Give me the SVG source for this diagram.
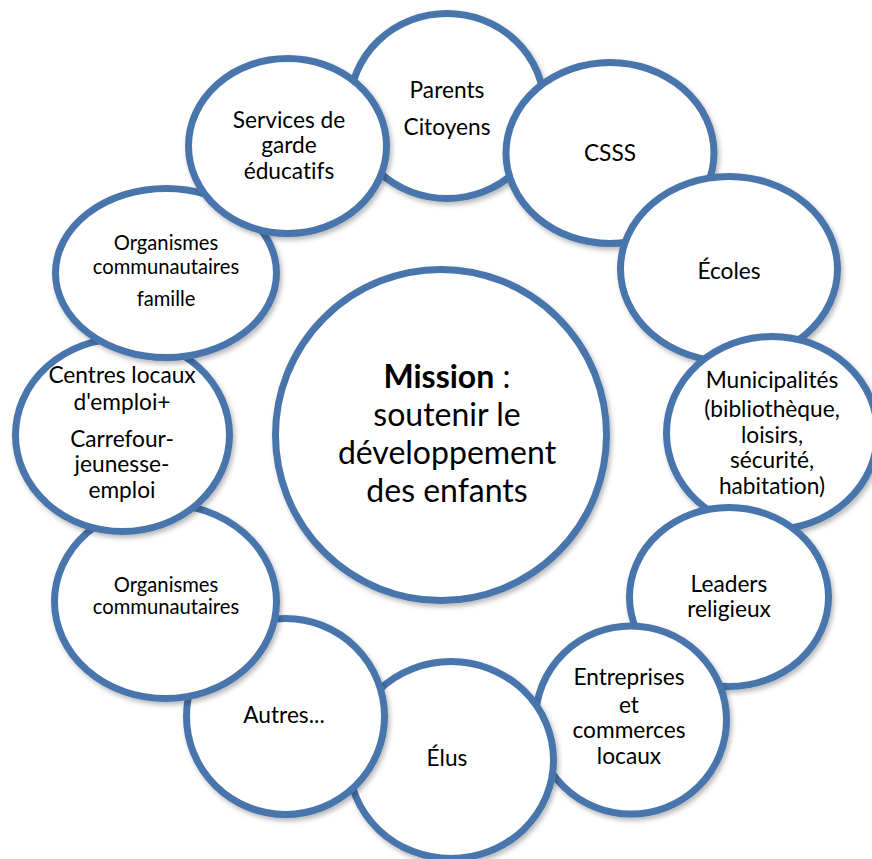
<svg xmlns="http://www.w3.org/2000/svg" width="872" height="859" viewBox="0 0 872 859">
  <defs>
    <filter id="shadow" x="-10%" y="-10%" width="125%" height="125%">
      <feDropShadow dx="2" dy="3" stdDeviation="2.5" flood-color="#000000" flood-opacity="0.28"/>
    </filter>
  </defs>
  <style>
    .bubble { fill: #ffffff; stroke: #4a75ad; stroke-width: 7; filter: url(#shadow); }
    .label { font-family: "Lato", "Open Sans", "Liberation Sans", sans-serif; fill: #000000; text-anchor: middle; font-variant-ligatures: none; }
    .m { font-size: 22.7px; }
    .s { font-size: 20.2px; }
    .big { font-size: 32px; }
  </style>
  <rect width="872" height="859" fill="#ffffff"/>

  <!-- ring of partners, drawn clockwise from the top so each overlaps the previous -->
  <g id="parents">
    <ellipse class="bubble" cx="447" cy="106" rx="97" ry="92.5"/>
    <text class="label m" x="447" y="98">Parents</text>
    <text class="label m" x="447" y="135">Citoyens</text>
  </g>
  <g id="csss">
    <ellipse class="bubble" cx="610" cy="153" rx="104" ry="90.5"/>
    <text class="label m" x="610" y="161">CSSS</text>
  </g>
  <g id="ecoles">
    <ellipse class="bubble" cx="729" cy="269" rx="108.5" ry="92.5"/>
    <text class="label m" x="729" y="279">Écoles</text>
  </g>
  <g id="municipalites">
    <ellipse class="bubble" cx="772" cy="433" rx="105.5" ry="96.5"/>
    <text class="label m" x="772" y="388">Municipalités</text>
    <text class="label m" x="772" y="417">(bibliothèque,</text>
    <text class="label m" x="772" y="443">loisirs,</text>
    <text class="label m" x="772" y="468">sécurité,</text>
    <text class="label m" x="772" y="494">habitation)</text>
  </g>
  <g id="leaders">
    <ellipse class="bubble" cx="729" cy="597" rx="99.5" ry="89.5"/>
    <text class="label m" x="729" y="592">Leaders</text>
    <text class="label m" x="729" y="617">religieux</text>
  </g>
  <g id="entreprises">
    <ellipse class="bubble" cx="631" cy="720" rx="95.5" ry="94"/>
    <text class="label m" x="629" y="685">Entreprises</text>
    <text class="label m" x="629" y="713">et</text>
    <text class="label m" x="629" y="738">commerces</text>
    <text class="label m" x="629" y="764">locaux</text>
  </g>
  <g id="elus">
    <ellipse class="bubble" cx="451" cy="760" rx="102.5" ry="98.5"/>
    <text class="label m" x="447" y="766">Élus</text>
  </g>
  <g id="autres">
    <ellipse class="bubble" cx="285.5" cy="716.5" rx="99" ry="98"/>
    <text class="label m" x="284" y="723">Autres...</text>
  </g>
  <g id="organismes-communautaires">
    <ellipse class="bubble" cx="165.5" cy="601.5" rx="111" ry="97"/>
    <text class="label s" x="166" y="592">Organismes</text>
    <text class="label s" x="166" y="614">communautaires</text>
  </g>
  <g id="centres-locaux-emploi">
    <ellipse class="bubble" cx="122.5" cy="435" rx="107" ry="96.5"/>
    <text class="label m" x="122" y="383">Centres locaux</text>
    <text class="label m" x="122" y="410">d'emploi+</text>
    <text class="label m" x="122" y="447">Carrefour-</text>
    <text class="label m" x="122" y="472">jeunesse-</text>
    <text class="label m" x="122" y="498">emploi</text>
  </g>
  <g id="organismes-famille">
    <ellipse class="bubble" cx="166" cy="273" rx="110.5" ry="84.5"/>
    <text class="label s" x="166" y="250">Organismes</text>
    <text class="label s" x="166" y="274">communautaires</text>
    <text class="label s" x="166" y="306">famille</text>
  </g>
  <g id="services-garde">
    <ellipse class="bubble" cx="287.5" cy="146" rx="99" ry="87.5"/>
    <text class="label m" x="289" y="128">Services de</text>
    <text class="label m" x="289" y="153">garde</text>
    <text class="label m" x="289" y="179">éducatifs</text>
  </g>

  <!-- central mission -->
  <g id="mission">
    <circle class="bubble" cx="441" cy="435" r="165.5"/>
    <text class="label big" x="447" y="388"><tspan font-weight="bold">Mission</tspan> :</text>
    <text class="label big" x="447" y="426">soutenir le</text>
    <text class="label big" x="447" y="464">développement</text>
    <text class="label big" x="447" y="502">des enfants</text>
  </g>

  <!-- the diagram has no drawn connectors -->
  <g id="connectors"/>
</svg>
